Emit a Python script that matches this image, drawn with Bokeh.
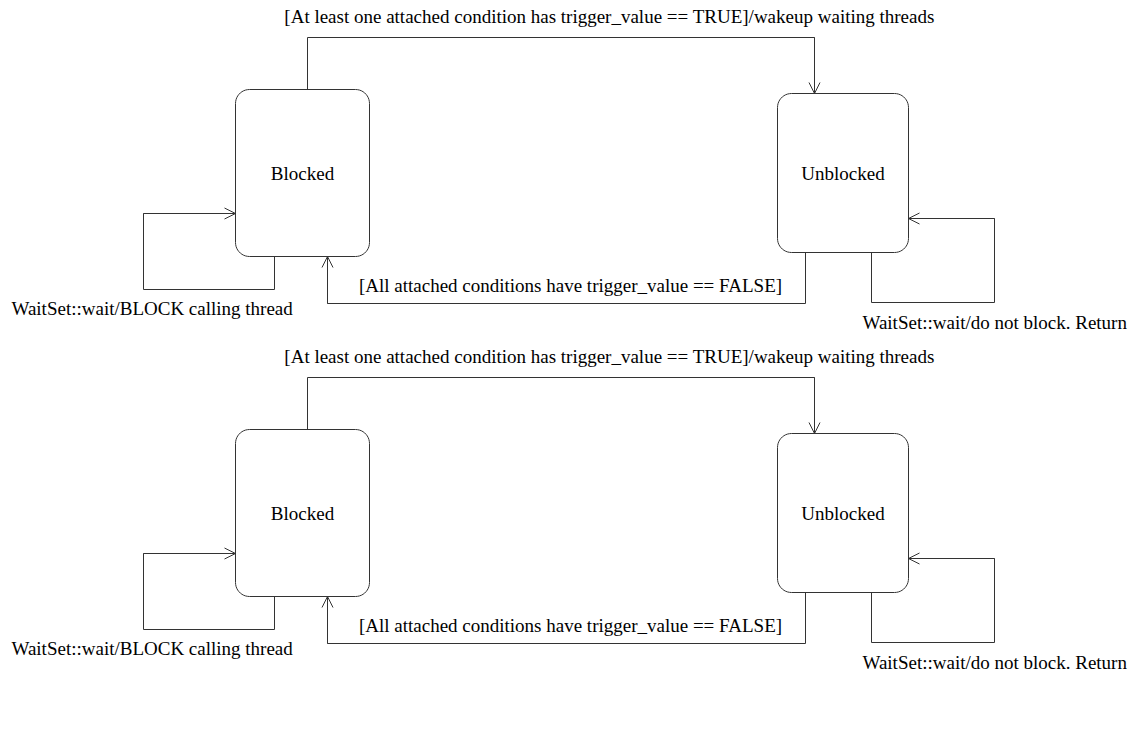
import numpy as np
from bokeh.plotting import figure
from bokeh.models import Range1d, Arrow, OpenHead
from bokeh.core.properties import value
from bokeh.embed import file_html
from bokeh.resources import INLINE

# ---- diagram data (reference pixel coordinates, top copy) ----
state_names = ["Blocked", "Unblocked"]
state_left = [235, 777]
state_right = [369, 908]
state_top = [89, 93]
state_bottom = [256, 252]
corner_radius = 14

# transitions as polylines (x list, y list); arrow at last point
trans_names = ["trigger_true", "block_self", "all_false", "unblock_self"]
trans_x = [[307, 307, 814, 814],
           [274, 274, 143, 143, 235],
           [805, 805, 327, 327],
           [871, 871, 994, 994, 908]]
trans_y = [[89, 37, 37, 93],
           [256, 289, 289, 213, 213],
           [252, 303, 303, 256],
           [252, 302, 302, 218, 218]]

label_texts = ["[At least one attached condition has trigger_value == TRUE]/wakeup waiting threads",
               "[All attached conditions have trigger_value == FALSE]",
               "WaitSet::wait/BLOCK calling thread",
               "WaitSet::wait/do not block. Return"]
label_x = [609, 570, 11, 862]
label_y = [16, 285, 308, 322]
label_align = ["center", "center", "left", "left"]

copy_offsets = [0, 340]

FONT = value("Liberation Serif")
FSIZE = "19px"
LINE = "#333333"

p = figure(width=1130, height=732, output_backend="svg", toolbar_location=None,
           x_range=Range1d(0, 1130), y_range=Range1d(732, 0), min_border=0)
p.axis.visible = False
p.grid.visible = False
p.outline_line_color = None
p.background_fill_color = "white"
p.border_fill_color = "white"


def rounded_rect(x0, x1, y0, y1, r):
    xs, ys = [], []
    corners = [(x1 - r, y0 + r, -90, 0), (x1 - r, y1 - r, 0, 90),
               (x0 + r, y1 - r, 90, 180), (x0 + r, y0 + r, 180, 270)]
    for cx, cy, a0, a1 in corners:
        t = np.radians(np.linspace(a0, a1, 12))
        xs.extend(cx + r * np.cos(t))
        ys.extend(cy + r * np.sin(t))
    xs.append(xs[0]); ys.append(ys[0])
    return xs, ys


for off in copy_offsets:
    # states
    bx, by = [], []
    for i in range(len(state_names)):
        xs, ys = rounded_rect(state_left[i], state_right[i], state_top[i] + off, state_bottom[i] + off, corner_radius)
        bx.append(xs); by.append(ys)
    p.patches(bx, by, fill_color="white", line_color=LINE, line_width=1)
    cx = [(a + b) / 2 for a, b in zip(state_left, state_right)]
    cy = [(a + b) / 2 + off for a, b in zip(state_top, state_bottom)]
    p.text(cx, cy, text=state_names, text_font=FONT, text_font_size=FSIZE,
           text_align="center", text_baseline="middle", text_color="black")

    # transitions
    ty = [[v + off for v in ys] for ys in trans_y]
    p.multi_line(trans_x, ty, line_color=LINE, line_width=1)
    for xs, ys in zip(trans_x, ty):
        p.add_layout(Arrow(end=OpenHead(size=11, line_color=LINE, line_width=1),
                           x_start=xs[-2], y_start=ys[-2], x_end=xs[-1], y_end=ys[-1],
                           line_color=LINE, line_width=1))

    # labels
    for t, x, y, al in zip(label_texts, label_x, label_y, label_align):
        p.text([x], [y + off], text=[t], text_font=FONT, text_font_size=FSIZE,
               text_align=al, text_baseline="middle", text_color="black")

open("out.html", "w").write(file_html(p, INLINE))
